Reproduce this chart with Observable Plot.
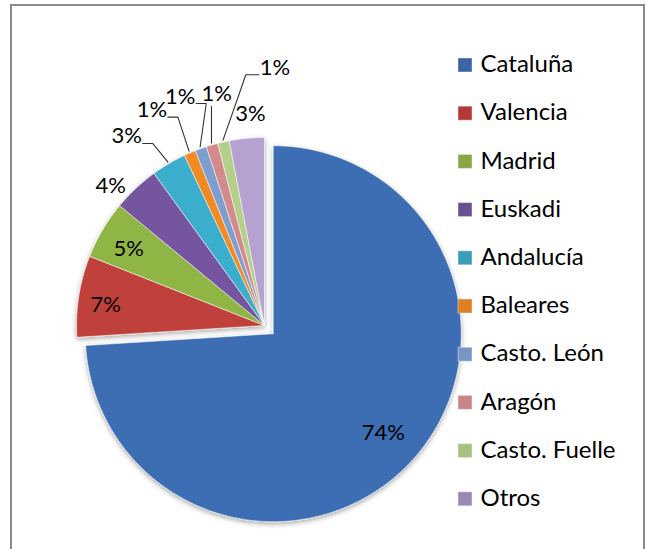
<!DOCTYPE html>
<html><head><meta charset="utf-8">
<script src="https://cdn.jsdelivr.net/npm/d3@7"></script>
<script src="https://cdn.jsdelivr.net/npm/@observablehq/plot@0.6"></script>
<style>
html,body{margin:0;padding:0;background:#fff;}
#wrap{position:relative;width:648px;height:549px;overflow:hidden;}
#frame{position:absolute;left:10px;top:4px;width:631px;height:560px;border:2px solid #8a8a8a;border-bottom:none;pointer-events:none;}
</style>
</head><body>
<div id="wrap"><div id="chart"></div><div id="frame"></div></div>
<script>
// ---- data ----
const regions = ["Cataluña","Valencia","Madrid","Euskadi","Andalucía","Baleares","Casto. León","Aragón","Casto. Fuelle","Otros"];
const shares  = [74, 7, 5, 4, 3, 1, 1, 1, 1, 3];
const pctLabels = ["74%","7%","5%","4%","3%","1%","1%","1%","1%","3%"];
const colors = ["#3C6DB3","#C0413B","#8FB545","#7654A0","#3AAECD","#F08A22","#7E9ED0","#D38A8B","#B3CF89","#B6A2D1"];
const legendColors = ["#3A66A6","#B23A36","#87A845","#6A4F93","#3A9DB8","#E07F22","#7A96C4","#C98586","#A7C27F","#9A87B6"];

// ---- layout ----
const W = 648, H = 549;
const cx = 264, cy = 325, R = 188, explodeDist = 12;
const labelPlacement = [ // radial distance, angular nudge (deg) from slice bisector
  {r:148, da:-1.2},{r:160, da:-1.8},{r:156, da:-1.1},{r:208, da:-4.5},{r:234, da:-5.5},
  {r:243, da:-4.2},{r:244, da:-0.4},{r:236, da:4.5},{r:258, da:14.9},{r:212, da:1.6}
];
const legend = {x: 458, top: 64, step: 48.2, box: 14, textX: 480};
const fontFamily = "Lato, 'Open Sans', sans-serif";

const total = d3.sum(shares);
const dir = a => [Math.sin(a), -Math.cos(a)];
let acc = 0;
const slices = regions.map((name, i) => {
  const a0 = acc / total * 2 * Math.PI; acc += shares[i];
  const a1 = acc / total * 2 * Math.PI;
  const mid = (a0 + a1) / 2;
  const off = i === 0 ? explodeDist : 0;
  const [ux, uy] = dir(mid);
  return {name, i, a0, a1, mid, ox: cx + ux * off, oy: cy + uy * off};
});

// slice polygons
const polyPts = [];
for (const s of slices) {
  const n = Math.max(4, Math.ceil((s.a1 - s.a0) / (Math.PI / 360)));
  polyPts.push({name: s.name, x: s.ox, y: s.oy});
  for (let k = 0; k <= n; k++) {
    const a = s.a0 + (s.a1 - s.a0) * k / n;
    const [ux, uy] = dir(a);
    polyPts.push({name: s.name, x: s.ox + R * ux, y: s.oy + R * uy});
  }
  polyPts.push({name: s.name, x: s.ox, y: s.oy});
}

// labels
const labelData = slices.map(s => {
  const p = labelPlacement[s.i];
  const a = s.mid + p.da * Math.PI / 180;
  const [ux, uy] = dir(a);
  return {text: pctLabels[s.i], x: s.ox + p.r * ux, y: s.oy + p.r * uy, r: p.r, s};
});

// leader lines
const leaderPts = [];
const hw = 13, hh = 10;
for (const L of labelData) {
  if (L.r <= R + 30) continue;
  const [ux, uy] = dir(L.s.mid);
  const ex = L.s.ox + (R + 2) * ux, ey = L.s.oy + (R + 2) * uy;
  let pts;
  if (ex > L.x + hw) { const sx = L.x + hw + 3, sy = L.y + 7; pts = [[sx, sy], [sx + 10, sy], [ex, ey]]; }
  else if (ex < L.x - hw) { const sx = L.x - hw - 3, sy = L.y + 7; pts = [[sx, sy], [sx - 13, sy], [ex, ey]]; }
  else { pts = [[ex, L.y + hh + 2], [ex, ey]]; }
  pts.forEach(([x, y]) => leaderPts.push({id: L.s.name, x, y}));
}

// legend
const legendData = regions.map((name, i) => ({name, i, y: legend.top + i * legend.step}));

const chart = Plot.plot({
  width: W, height: H,
  margin: 0,
  x: {type: "identity", axis: null},
  y: {type: "identity", axis: null},
  color: {domain: regions, range: colors},
  style: {fontFamily, background: "transparent"},
  marks: [
    Plot.line(polyPts, {x: "x", y: "y", z: "name", fill: "name", stroke: "#ffffff", strokeOpacity: 0.55, strokeWidth: 1, curve: "linear", className: "slices"}),
    Plot.line(leaderPts, {x: "x", y: "y", z: "id", stroke: "#333", strokeWidth: 1.1}),
    Plot.text(labelData, {x: "x", y: "y", text: "text", fontSize: 22, fill: "#000"}),
    Plot.rect(legendData, {x1: d => legend.x, x2: d => legend.x + legend.box, y1: d => d.y - legend.box / 2 + 1, y2: d => d.y + legend.box / 2 + 1, fill: d => legendColors[d.i], stroke: "#ffffff", strokeOpacity: 0.4}),
    Plot.text(legendData, {x: d => legend.textX, y: "y", text: "name", textAnchor: "start", fontSize: 24, fill: "#000"})
  ]
});
// soft drop shadow under the pie, like the bevelled original
const svgNS = "http://www.w3.org/2000/svg";
const defs = document.createElementNS(svgNS, "defs");
defs.innerHTML = '<filter id="shadow" x="-10%" y="-10%" width="120%" height="125%"><feDropShadow dx="0" dy="2" stdDeviation="2.5" flood-color="#000" flood-opacity="0.35"/></filter>';
chart.prepend(defs);
const g = chart.querySelector("g.slices") || chart.querySelector("g[aria-label='line']");
if (g) g.setAttribute("filter", "url(#shadow)");
document.getElementById("chart").append(chart);
</script>
</body></html>
